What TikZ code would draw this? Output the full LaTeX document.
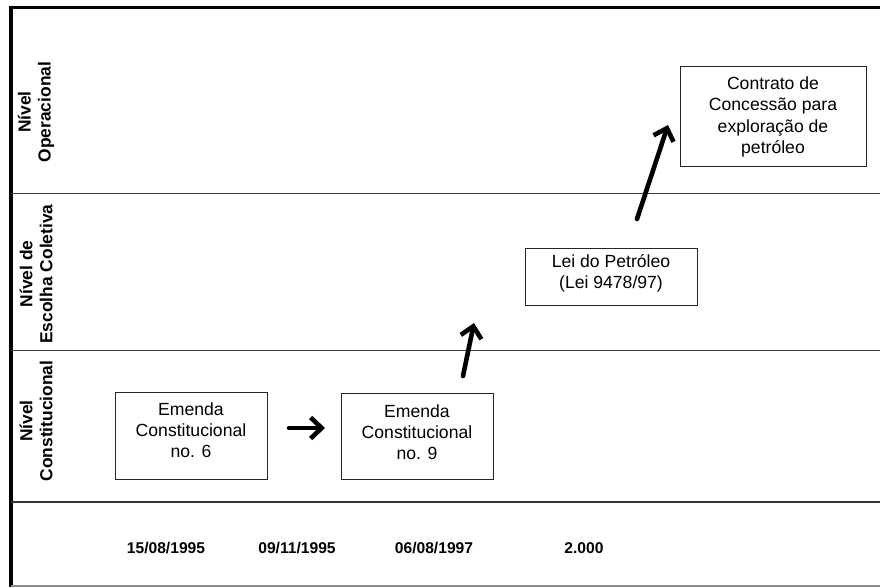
\documentclass[tikz,border=0pt]{standalone}
\usepackage{fontspec}
\setmainfont{Liberation Sans}
\usetikzlibrary{arrows.meta}
\tikzset{
  evbox/.style={draw=black!85, line width=1pt, inner sep=0pt},
  evtext/.style={align=center, inner sep=0pt, font=\fontsize{17.6}{21.3}\selectfont},
  lvlabel/.style={rotate=90, align=center, font=\bfseries\fontsize{17.4}{20}\selectfont},
  datelabel/.style={font=\bfseries\fontsize{15.6}{18}\selectfont},
  bigarrow/.style={line width=4.6pt, line cap=round, line join=round,
    -{Straight Barb[length=11pt,width=21pt,line width=4.6pt]}},
  rowline/.style={draw=black!75, line width=1pt}
}
\begin{document}
\begin{tikzpicture}[x=1pt,y=-1pt]
\useasboundingbox (0,0) rectangle (880,587);
\fill[white] (0,0) rectangle (880,587);
% frame
\draw[line width=3pt] (11,7) -- (880,7);
\draw[line width=3.5pt] (11,5.5) -- (11,587);
\draw[rowline] (11,193) -- (880,193);
\draw[rowline] (11,350) -- (880,350);
\draw[line width=1.8pt, black!80] (11,502) -- (880,502);
\draw[line width=1.2pt, black!45] (11,586) -- (880,586);
% level labels
\node[lvlabel] (lop) at (36,112) {Nível\\Operacional};
\node[lvlabel] (lec) at (36,274) {Nível de\\Escolha Coletiva};
\node[lvlabel] (lco) at (36,421) {Nível\\Constitucional};
% boxes
\node[evbox, minimum width=152pt, minimum height=87pt] (e6) at (191,435.5) {};
\node[evtext] (e6t) at (191,430) {Emenda\\Constitucional\\no. 6};
\node[evbox, minimum width=152pt, minimum height=86pt] (e9) at (417,436) {};
\node[evtext] (e9t) at (417,432) {Emenda\\Constitucional\\no. 9};
\node[evbox, minimum width=172pt, minimum height=57pt] (lei) at (611,276.5) {};
\node[evtext] (leit) at (611,273.5) {Lei do Petróleo\\(Lei 9478/97)};
\node[evbox, minimum width=186pt, minimum height=100pt] (cc) at (773,116) {};
\node[evtext] (cct) at (773,117) {Contrato de\\Concessão para\\exploração de\\petróleo};
% arrows
\coordinate (a1s) at (289,428);
\coordinate (a1e) at (325,428);
\coordinate (a2s) at (463,376);
\coordinate (a2e) at (474,323);
\coordinate (a3s) at (637,219);
\coordinate (a3e) at (668,125);
\draw[bigarrow] (a1s) -- (a1e);
\draw[bigarrow] (a2s) -- (a2e);
\draw[bigarrow] (a3s) -- (a3e);
% dates
\node[datelabel] (d1) at (166,548) {15/08/1995};
\node[datelabel] (d2) at (297,548) {09/11/1995};
\node[datelabel] (d3) at (434,548) {06/08/1997};
\node[datelabel] (d4) at (584,548) {2.000};
\end{tikzpicture}
\end{document}
